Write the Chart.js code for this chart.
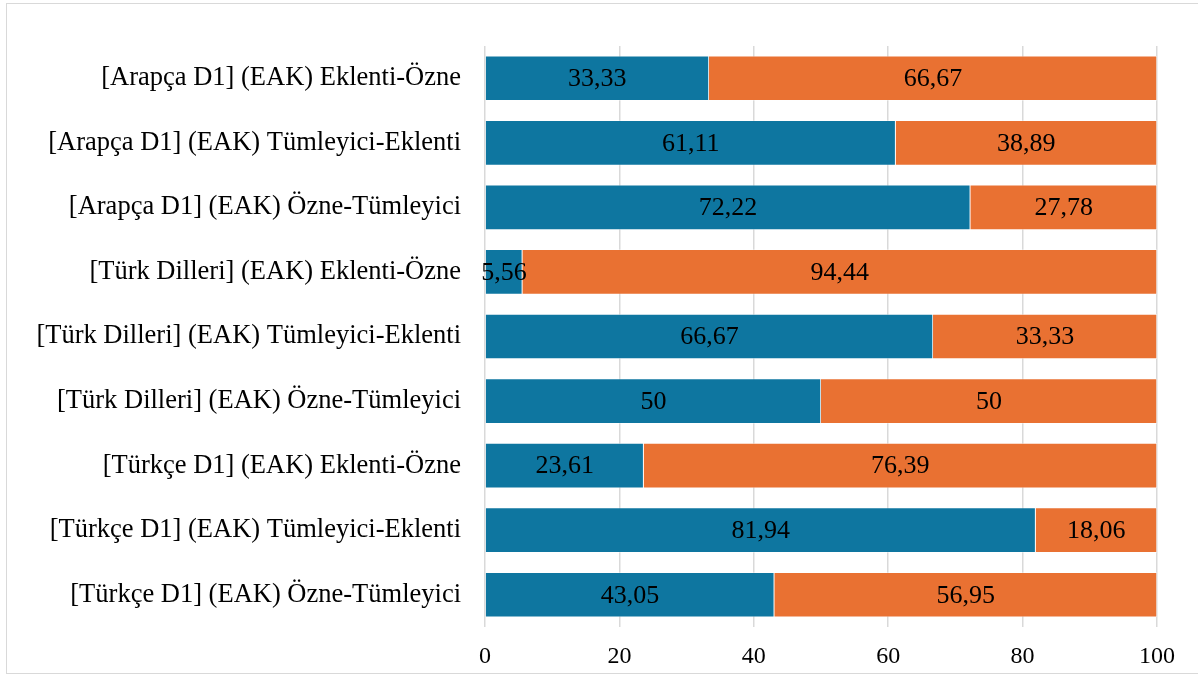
<!DOCTYPE html>
<html>
<head>
<meta charset="utf-8">
<script src="https://cdn.jsdelivr.net/npm/chart.js@4/dist/chart.umd.min.js"></script>
<style>
  html, body { margin: 0; padding: 0; background: #ffffff; }
  #wrap { position: relative; width: 1198px; height: 675px; }
  #frame { position: absolute; left: 6px; top: 3px; width: 1200px; height: 671px;
           border: 1.5px solid #d9d9d9; box-sizing: border-box; pointer-events: none; }
  canvas { position: absolute; left: 0; top: 0; }
</style>
</head>
<body>
<div id="wrap">
  <canvas id="chart" width="1198" height="675"></canvas>
  <div id="frame"></div>
</div>
<script>
// Categories (top to bottom)
const categories = [
  "[Arapça D1] (EAK) Eklenti-Özne",
  "[Arapça D1] (EAK) Tümleyici-Eklenti",
  "[Arapça D1] (EAK) Özne-Tümleyici",
  "[Türk Dilleri] (EAK) Eklenti-Özne",
  "[Türk Dilleri] (EAK) Tümleyici-Eklenti",
  "[Türk Dilleri] (EAK) Özne-Tümleyici",
  "[Türkçe D1] (EAK) Eklenti-Özne",
  "[Türkçe D1] (EAK) Tümleyici-Eklenti",
  "[Türkçe D1] (EAK) Özne-Tümleyici"
];

// Percentage shares per category
const seriesBlue   = [33.33, 61.11, 72.22, 5.56, 66.67, 50, 23.61, 81.94, 43.05];
const seriesOrange = [66.67, 38.89, 27.78, 94.44, 33.33, 50, 76.39, 18.06, 56.95];

// Value axis ticks
const xTicks = [0, 20, 40, 60, 80, 100];

const serif = "'Liberation Serif', 'Times New Roman', serif";

// Writes each value (decimal comma) centred inside its bar segment
const segmentLabels = {
  id: 'segmentLabels',
  afterDatasetsDraw(chart) {
    const ctx = chart.ctx;
    ctx.save();
    ctx.font = "26px " + serif;
    ctx.fillStyle = "#000000";
    ctx.textAlign = "center";
    ctx.textBaseline = "middle";
    chart.data.datasets.forEach((ds, di) => {
      const meta = chart.getDatasetMeta(di);
      meta.data.forEach((bar, i) => {
        const v = ds.data[i];
        const { x, y, base } = bar.getProps(['x', 'y', 'base'], true);
        const cx = (x + base) / 2;
        ctx.fillText(String(v).replace('.', ','), cx, y + 1);
      });
    });
    ctx.restore();
  }
};

new Chart(document.getElementById('chart'), {
  type: 'bar',
  data: {
    labels: categories,
    datasets: [
      { label: 'Seri 1', data: seriesBlue, backgroundColor: '#0e76a0',
        borderColor: 'rgba(255,255,255,0.6)', borderWidth: 0.75 },
      { label: 'Seri 2', data: seriesOrange, backgroundColor: '#e97132',
        borderColor: 'rgba(255,255,255,0.6)', borderWidth: 0.75 }
    ]
  },
  options: {
    indexAxis: 'y',
    responsive: false,
    animation: false,
    devicePixelRatio: 1,
    categoryPercentage: 1,
    barPercentage: 0.7,
    layout: { padding: { top: 46, right: 41, bottom: 0, left: 0 } },
    plugins: {
      legend: { display: false },
      tooltip: { enabled: false }
    },
    scales: {
      x: {
        stacked: true,
        min: 0,
        max: 100,
        afterBuildTicks: (axis) => { axis.ticks = xTicks.map(v => ({ value: v })); },
        afterFit: (axis) => { axis.height = 48; },
        border: { display: false },
        grid: { color: '#d9d9d9', lineWidth: 1.5, drawTicks: false },
        ticks: {
          padding: 15,
          color: '#000000',
          font: { family: serif, size: 24 }
        }
      },
      y: {
        stacked: true,
        afterFit: (axis) => { axis.width = 485; },
        border: { display: false },
        grid: { display: false, drawTicks: false },
        ticks: {
          padding: 24,
          color: '#000000',
          font: { family: serif, size: 26.5 }
        }
      }
    }
  },
  plugins: [segmentLabels]
});
</script>
</body>
</html>
